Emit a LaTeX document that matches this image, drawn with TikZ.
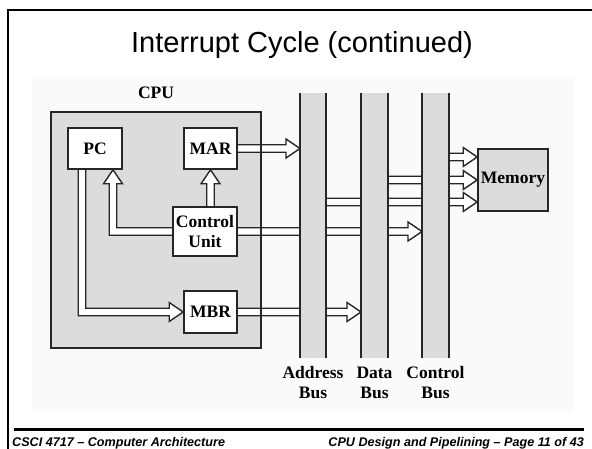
\documentclass[tikz,border=0pt]{standalone}
\usepackage{fontspec}
\setmainfont{Liberation Serif}
\newfontfamily\slidefont{Liberation Sans}
\usetikzlibrary{positioning,calc,backgrounds}
\definecolor{boxgray}{RGB}{220,220,220}
\pgfdeclarelayer{links}
\pgfsetlayers{background,links,main}
\tikzset{
  unitbox/.style={draw=black!85, line width=1.6pt, fill=white, align=center,
    font=\bfseries\fontsize{17.5}{20}\selectfont, inner sep=0pt},
  cpubox/.style={draw=black!85, line width=2pt, fill=boxgray, outer sep=0pt},
  cpuline/.style={draw=black!85, line width=2pt},
  busbar/.style={fill=boxgray, minimum width=26pt, minimum height=265pt, inner sep=0pt, outer sep=0pt},
  busedge/.style={draw=black!85, line width=1.6pt},
  busarrow/.style={draw=black!85, fill=white, line width=1.4pt, line join=miter},
  buslabel/.style={font=\bfseries\fontsize{17.5}{20}\selectfont, align=center, inner sep=0pt},
  footer/.style={font=\slidefont\bfseries\itshape\fontsize{12.6}{14}\selectfont, inner sep=0pt},
}
\newcommand{\shaftw}{3.75}
\newcommand{\headw}{9.5}
\newcommand{\headl}{14}
% hollow bus arrow to the right, #1 and #2 at the same height
\newcommand{\rightbusarrow}[2]{%
  \filldraw[busarrow] ($(#1)+(0,-\shaftw)$) -- ($(#2)+(-\headl,-\shaftw)$)
    -- ($(#2)+(-\headl,-\headw)$) -- (#2) -- ($(#2)+(-\headl,\headw)$)
    -- ($(#2)+(-\headl,\shaftw)$) -- ($(#1)+(0,\shaftw)$);}
% hollow bus arrow upwards
\newcommand{\upbusarrow}[2]{%
  \filldraw[busarrow] ($(#1)+(-\shaftw,0)$) -- ($(#2)+(-\shaftw,\headl)$)
    -- ($(#2)+(-\headw,\headl)$) -- (#2) -- ($(#2)+(\headw,\headl)$)
    -- ($(#2)+(\shaftw,\headl)$) -- ($(#1)+(\shaftw,0)$);}

\begin{document}
\begin{tikzpicture}[x=1pt, y=-1pt]
  \useasboundingbox (0,0) rectangle (592,449);
  % slide frame
  \draw[line width=2pt] (8,449) -- (8,10.5) -- (592,10.5);
  \draw[line width=3pt] (14,429) -- (584,429);
  \node[font=\slidefont\fontsize{29}{34}\selectfont, anchor=base] (title) at (302,53) {Interrupt Cycle (continued)};
  \node[footer, anchor=base west] (course) at (12,446) {CSCI 4717 – Computer Architecture};
  \node[footer, anchor=base east] (page) at (584,446) {CPU Design and Pipelining – Page 11 of 43};

  \begin{pgfonlayer}{background}
    \fill[black!2] (32,78) rectangle (574,412);
    \node[cpubox, minimum width=210pt, minimum height=236pt] (cpu) at (156,230) {};
  \end{pgfonlayer}
  \node[buslabel, above=13pt of cpu] (cpulabel) {CPU};

  % registers
  \node[unitbox, minimum width=54pt, minimum height=41pt] (pc) at (95,148.5) {PC};
  \node[unitbox, minimum width=53pt, minimum height=41pt] (mar) at (210.5,148.5) {MAR};
  \node[unitbox, minimum width=64pt, minimum height=49pt] (cu) at (205,231.5) {Control\\Unit};
  \node[unitbox, minimum width=53pt, minimum height=42pt] (mbr) at (210.5,312) {MBR};

  % buses
  \node[busbar] (abus) at (313,225.5) {};
  \node[busbar, minimum width=27pt] (dbus) at (374.5,225.5) {};
  \node[busbar, minimum width=27pt] (cbus) at (435.5,225.5) {};
  \draw[busedge] (abus.north west) -- (abus.south west) (abus.north east) -- (abus.south east);
  \draw[busedge] (dbus.north west) -- (dbus.south west) (dbus.north east) -- (dbus.south east);
  \draw[busedge] (cbus.north west) -- (cbus.south west) (cbus.north east) -- (cbus.south east);
  \node[buslabel, below=6pt of abus] (alabel) {\strut Address\\\strut Bus};
  \node[buslabel, below=6pt of dbus] (dlabel) {\strut Data\\\strut Bus};
  \node[buslabel, below=6pt of cbus] (clabel) {\strut Control\\\strut Bus};

  \node[unitbox, fill=boxgray, minimum width=70pt, minimum height=62pt] (mem) at (513,180) {Memory};

  \begin{pgfonlayer}{links}
    \coordinate (pcin) at ($(pc.south)+(18,0)$);
    \coordinate (pcout) at ($(pc.south)+(-13,0)$);
    \coordinate (pcturn) at (pcin |- cu.west);
    \coordinate (mbrturn) at (pcout |- mbr.west);
    \coordinate (marin) at (mar.south |- cu.north);
    \coordinate (marout) at (mar.east -| abus.west);
    \coordinate (cuout) at (cu.east -| cbus.west);
    \coordinate (mbrout) at (mbr.east -| dbus.west);
    \coordinate (amem) at ($(mem.west)+(0,22)$);
    \coordinate (afrom) at (amem -| abus.east);
    \coordinate (dfrom) at (mem.west -| dbus.east);
    \coordinate (cmem) at ($(mem.west)+(0,-23)$);
    \coordinate (cfrom) at (cmem -| cbus.east);

    \rightbusarrow{mar.east}{marout}
    \upbusarrow{marin}{mar.south}
    \rightbusarrow{cu.east}{cuout}
    \rightbusarrow{mbr.east}{mbrout}
    \rightbusarrow{afrom}{amem}
    \rightbusarrow{dfrom}{mem.west}
    \rightbusarrow{cfrom}{cmem}
    % control unit to PC
    \filldraw[busarrow] ($(cu.west)+(0,-\shaftw)$) -- ($(pcturn)+(\shaftw,-\shaftw)$)
      -- ($(pcin)+(\shaftw,\headl)$) -- ($(pcin)+(\headw,\headl)$) -- (pcin)
      -- ($(pcin)+(-\headw,\headl)$) -- ($(pcin)+(-\shaftw,\headl)$)
      -- ($(pcturn)+(-\shaftw,\shaftw)$) -- ($(cu.west)+(0,\shaftw)$);
    % PC to MBR
    \filldraw[busarrow] ($(pcout)+(\shaftw,0)$) -- ($(mbrturn)+(\shaftw,-\shaftw)$)
      -- ($(mbr.west)+(-\headl,-\shaftw)$) -- ($(mbr.west)+(-\headl,-\headw)$) -- (mbr.west)
      -- ($(mbr.west)+(-\headl,\headw)$) -- ($(mbr.west)+(-\headl,\shaftw)$)
      -- ($(mbrturn)+(-\shaftw,\shaftw)$) -- ($(pcout)+(-\shaftw,0)$);
  \end{pgfonlayer}
  \draw[cpuline] (cpu.north west) rectangle (cpu.south east);
\end{tikzpicture}
\end{document}
